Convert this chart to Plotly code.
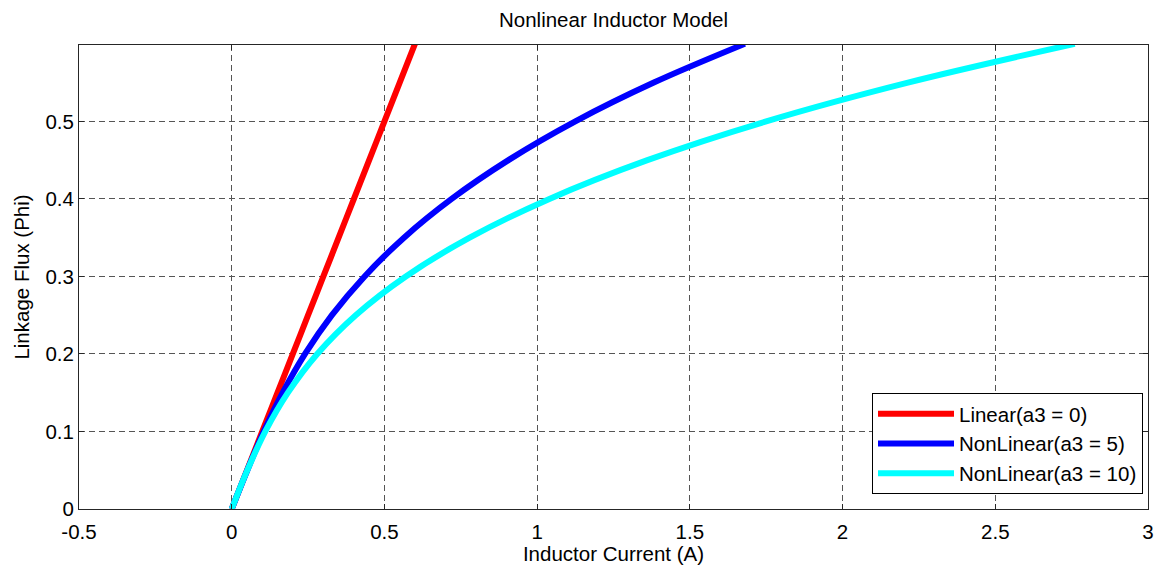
import plotly.graph_objects as go

# Data
flux = [0.0, 0.05, 0.1, 0.15, 0.2, 0.25, 0.3, 0.35, 0.4, 0.45, 0.5, 0.55, 0.6]
current_linear = [0.0, 0.05, 0.1, 0.15, 0.2, 0.25, 0.3, 0.35, 0.4, 0.45, 0.5, 0.55, 0.6]
current_a3_5 = [0.0, 0.051, 0.105, 0.167, 0.24, 0.328, 0.435, 0.564, 0.72, 0.906, 1.125, 1.382, 1.68]
current_a3_10 = [0.0, 0.051, 0.11, 0.184, 0.28, 0.406, 0.57, 0.779, 1.04, 1.361, 1.75, 2.214, 2.76]

series_names = ["Linear(a3 = 0)", "NonLinear(a3 = 5)", "NonLinear(a3 = 10)"]
series_colors = ["#ff0000", "#0000ff", "#00ffff"]

x_ticks = [-0.5, 0, 0.5, 1, 1.5, 2, 2.5, 3]
x_ticktext = ["-0.5", "0", "0.5", "1", "1.5", "2", "2.5", "3"]
y_ticks = [0, 0.1, 0.2, 0.3, 0.4, 0.5]
y_ticktext = ["0", "0.1", "0.2", "0.3", "0.4", "0.5"]

FONT = "Liberation Sans, Arial, Helvetica, sans-serif"
FS = 20.5

fig = go.Figure()
for name, color, xs in zip(series_names, series_colors,
                           [current_linear, current_a3_5, current_a3_10]):
    fig.add_trace(go.Scatter(
        x=xs, y=flux, mode="lines", name=name,
        line=dict(color=color, width=6, shape="spline"),
    ))

axis_common = dict(
    showline=True, linecolor="#262626", linewidth=1, mirror="ticks",
    ticks="inside", ticklen=5, tickcolor="#262626", tickwidth=1,
    showgrid=True, gridcolor="#555555", gridwidth=1, griddash="6px,4px",
    zeroline=False, automargin=False,
    tickfont=dict(family=FONT, size=FS, color="black"),
)

fig.update_layout(
    width=1158, height=565,
    margin=dict(l=79, r=10, t=45, b=56),
    paper_bgcolor="white", plot_bgcolor="white",
    font=dict(family=FONT, size=FS, color="black"),
    title=dict(text="Nonlinear Inductor Model", x=(79 + 1148) / 2 / 1158, xanchor="center",
               y=1 - 20 / 565, yanchor="middle", yref="container",
               font=dict(family=FONT, size=FS, color="black")),
    xaxis=dict(range=[-0.5, 3], tickvals=x_ticks, ticktext=x_ticktext,
               ticklabelstandoff=4,
               title=dict(text="Inductor Current (A)", font=dict(family=FONT, size=FS), standoff=6),
               **axis_common),
    yaxis=dict(range=[0, 0.5985], tickvals=y_ticks, ticktext=y_ticktext,
               title=dict(text="Linkage Flux (Phi)", font=dict(family=FONT, size=FS), standoff=10),
               **axis_common),
    legend=dict(x=(872 - 79) / 1069, y=(509 - 393) / 464, xanchor="left", yanchor="top",
                bgcolor="white", bordercolor="black", borderwidth=1,
                font=dict(family=FONT, size=FS, color="black"),
                itemwidth=76, tracegroupgap=0),
)

fig.write_html("out.html")
